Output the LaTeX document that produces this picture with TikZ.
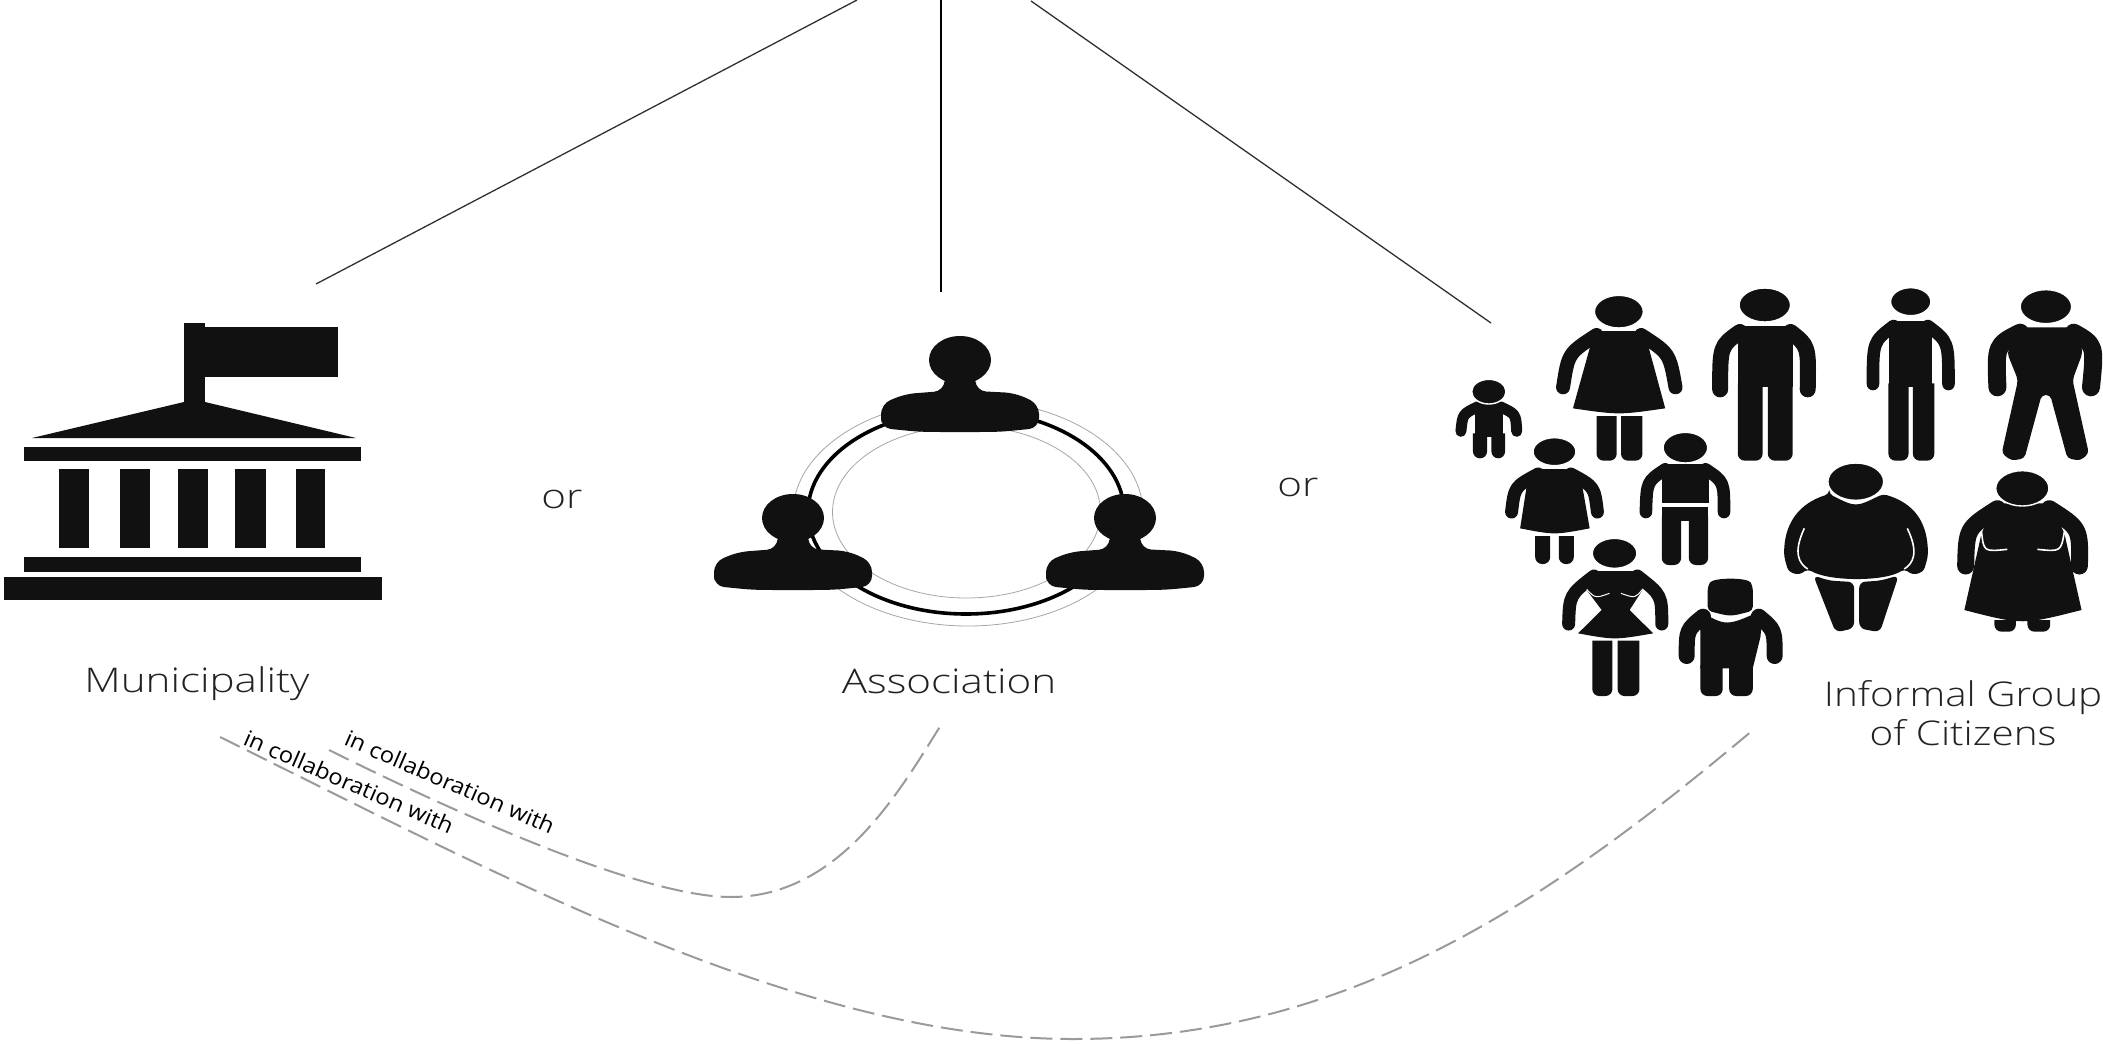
\documentclass[tikz,border=0pt]{standalone}
\usepackage{fontspec}
\setmainfont{Open Sans Light}
\newfontfamily\smallfont{Open Sans}
\definecolor{inkc}{HTML}{111111}
\definecolor{txtc}{HTML}{222222}
\definecolor{dashc}{HTML}{9A9A9A}
\definecolor{linec}{HTML}{303030}
\tikzset{
  ink/.style={fill=inkc,draw=none},
  conn/.style={draw=linec,line width=.65pt},
  connb/.style={draw=black,line width=1.1pt},
  collab/.style={draw=dashc,line width=1pt,dash pattern=on 11pt off 4pt},
  armst/.style={draw=inkc,line cap=round,line join=round},
  lbl/.style={text=txtc,font=\fontsize{17}{19.5}\selectfont,inner sep=0pt,align=center,xscale=1.24},
  lblgroup/.style={lbl,xscale=.96},
  small/.style={text=black,font=\smallfont\fontsize{11}{12}\selectfont,inner sep=0pt,rotate=-23.5,xscale=1.08},
  ringthin/.style={draw=gray!70,line width=.4pt},
  ringthick/.style={draw=black,line width=1.8pt},
  whiteline/.style={draw=white,line width=.8pt}
}
\newcommand\hd[4]{\fill[inkc,draw=white,line width=.7pt] (#1,#2) ellipse [x radius=#3,y radius=#4];}
\newcommand\arm[4][7]{\draw[armst,line width=#1pt] (#2) .. controls (#3) .. (#4);}
\newcommand\leg[4]{\fill[ink] (#1,#3) [rounded corners=3.5pt] -- (#1,#4) -- (#2,#4) [sharp corners] -- (#2,#3) -- cycle;}
\newcommand\bust[2]{%
  \begin{scope}[shift={(#1,#2)}]
  \fill[ink] (0,0) ellipse [x radius=31,y radius=24];
  \fill[ink,rounded corners=5pt] (-79,68) -- (-79,44) -- (-55,34) -- (-16,31) -- (-15,14) -- (15,14) -- (16,31) -- (55,33) -- (79,44) -- (79,68) .. controls (40,72) .. (0,72) .. controls (-40,72) .. (-79,68) -- cycle;
  \end{scope}}
\begin{document}
\begin{tikzpicture}[x=.5pt,y=-.5pt]
\useasboundingbox (0,0) rectangle (2103,1044);
% connector ends
\coordinate (t1) at (857,0);
\coordinate (t2) at (941,0);
\coordinate (t3) at (1031,1);
\coordinate (b1) at (316,284);
\coordinate (b2) at (941,292);
\coordinate (b3) at (1491,323);
\draw[conn] (t1) -- (b1);
\draw[connb] (t2) -- (b2);
\draw[conn] (t3) -- (b3);
% municipality icon
\fill[ink] (184,323) rectangle (205,403);
\fill[ink] (205,327) rectangle (338,377);
\fill[ink] (32,438) -- (184,402) -- (205,402) -- (356,438) -- cycle;
\fill[ink] (24,447) rectangle (361,461);
\foreach \a/\b in {59/89,120/150,178/208,235/266,296/325}{\fill[ink] (\a,469) rectangle (\b,548);}
\fill[ink] (24,557) rectangle (361,572);
\fill[ink] (4,577) rectangle (382,600);
% association icon
\draw[ringthin] (968,513) ellipse [x radius=175,y radius=113];
\draw[ringthin] (966.5,512) ellipse [x radius=134,y radius=86];
\draw[ringthick] (966,512) ellipse [x radius=158,y radius=102];
\bust{960}{360}
\bust{793}{518}
\bust{1125}{518}
% people
\begin{scope}[x=.2146pt,y=-.16667pt,shift={(715pt,-135pt)}]
% child
\fill[ink] (105,400) rectangle (170,500);
\arm[5.5]{112,410}{76,432}{72,484}
\arm[5.5]{163,410}{200,432}{202,484}
\leg{100}{133}{490}{565}\leg{143}{175}{490}{565}
\hd{137}{365}{40}{37}
% woman
\fill[ink] (385,183) -- (495,183) -- (510,235) -- (548,415) .. controls (440,435) .. (333,415) -- (372,235) -- cycle;
\arm{388,195}{322,250}{310,352}
\arm{492,195}{558,250}{572,352}
\leg{388}{435}{438}{572}\leg{445}{495}{438}{572}
\hd{440}{125}{57}{49}
% man
\fill[ink] (717,168) -- (845,168) -- (845,350) -- (717,350) -- cycle;
\arm[8]{722,186}{676,228}{676,358}
\arm[8]{840,186}{882,228}{880,358}
\leg{717}{775}{340}{572}\leg{787}{845}{340}{572}
\hd{780}{105}{60}{51}
% thin man
\fill[ink] (1070,153) -- (1170,153) -- (1170,350) -- (1070,350) -- cycle;
\arm[6.3]{1080,168}{1032,215}{1032,342}
\arm[6.3]{1160,168}{1208,215}{1208,342}
\leg{1068}{1115}{340}{572}\leg{1125}{1175}{340}{572}
\hd{1120}{95}{47}{42}
% broad man
\fill[ink,rounded corners=2pt] (1365,172) -- (1510,172) -- (1520,250) -- (1497,330) -- (1535,550) -- (1515,572) -- (1485,565) -- (1445,375) -- (1425,375) -- (1385,565) -- (1355,572) -- (1332,550) -- (1370,330) -- (1345,250) -- cycle;
\arm[9]{1375,188}{1318,225}{1322,352}
\arm[9]{1500,188}{1550,225}{1540,352}
\hd{1435}{110}{60}{51}
% small woman
\fill[ink] (245,597) -- (335,597) -- (355,650) -- (372,775) .. controls (290,795) .. (210,775) -- (225,650) -- cycle;
\arm[6.5]{252,612}{197,650}{190,726}
\arm[6.5]{328,612}{383,650}{390,726}
\leg{245}{280}{798}{882}\leg{300}{335}{798}{882}
\hd{290}{545}{50}{42}
% boy
\fill[ink] (540,582) rectangle (650,700);
\fill[ink] (540,712) rectangle (648,752);
\arm[6.3]{548,598}{505,635}{503,726}
\arm[6.3]{642,598}{685,635}{685,726}
\leg{540}{585}{740}{885}\leg{603}{648}{740}{885}
\hd{595}{533}{52}{46}
% girl
\fill[ink] (375,903) -- (490,903) -- (495,960) -- (465,1020) -- (520,1090) .. controls (430,1110) .. (345,1090) -- (400,1020) -- (365,960) -- cycle;
\arm[6.5]{382,918}{325,975}{323,1062}
\arm[6.5]{483,918}{540,975}{540,1062}
\draw[whiteline,line width=.5pt] (365,958) .. controls (385,985) .. (418,970);
\draw[whiteline,line width=.5pt] (495,958) .. controls (478,985) .. (445,970);
\leg{378}{425}{1112}{1278}\leg{437}{488}{1112}{1278}
\hd{430}{850}{52}{45}
% stocky figure
\fill[ink,rounded corners=2pt] (647,948) .. controls (660,922) and (740,922) .. (752,948) -- (752,1022) .. controls (700,1040) .. (647,1022) -- cycle;
\fill[ink] (625,1020) .. controls (690,1070) .. (775,1020) -- (770,1100) -- (752,1195) -- (630,1195) -- (630,1085) -- cycle;
\arm[8]{636,1040}{598,1080}{598,1158}
\arm[8]{766,1040}{803,1080}{803,1158}
\leg{630}{682}{1185}{1278}\leg{697}{752}{1185}{1278}
% fat man
\fill[ink,rounded corners=2pt] (930,672) .. controls (992,712) .. (1055,672) .. controls (1130,700) and (1160,760) .. (1160,860) -- (1150,905) -- (1125,915) -- (1105,897) .. controls (1060,935) and (930,935) .. (880,897) -- (860,915) -- (835,905) -- (825,860) .. controls (825,760) and (860,700) .. (930,672) -- cycle;
\draw[whiteline] (872,775) .. controls (845,850) and (860,880) .. (880,897);
\draw[whiteline] (1112,775) .. controls (1140,850) and (1125,880) .. (1105,897);
\fill[ink,rounded corners=3pt] (893,916) .. controls (930,932) .. (988,936) -- (988,1075) -- (945,1087) -- cycle;
\fill[ink,rounded corners=3pt] (1000,936) .. controls (1050,932) .. (1092,916) -- (1048,1087) -- (1000,1075) -- cycle;
\hd{992}{635}{65}{56}
% fat woman
\fill[ink] (1318,700) -- (1445,700) -- (1478,790) -- (1518,1020) .. controls (1380,1065) .. (1245,1020) -- (1285,790) -- cycle;
\arm[8.5]{1322,716}{1250,775}{1248,888}
\arm[8.5]{1443,716}{1515,775}{1513,888}
\draw[whiteline] (1285,785) .. controls (1290,845) .. (1345,838);
\draw[whiteline] (1478,785) .. controls (1470,845) .. (1415,838);
\leg{1315}{1365}{1050}{1085}\leg{1392}{1445}{1050}{1085}
\hd{1380}{655}{62}{53}
\end{scope}
% labels
\node[lbl] (mun) at (197,684) {Municipality};
\node[lbl] (ass) at (949,681) {Association};
\node[lbl,xscale=.96] (inf) at (1963,713) {Informal Group\\of Citizens};
\node[lbl] (or1) at (562,499) {or};
\node[lbl] (or2) at (1298,487) {or};
\node[small] (c1) at (450,782) {in collaboration with};
\node[small] (c2) at (349,782) {in collaboration with};
% dashed connectors
\coordinate (d1s) at (941,725);
\coordinate (d1m) at (731,897);
\coordinate (d1e) at (329,750);
\coordinate (d2s) at (1753,730);
\coordinate (d2m) at (1073,1039);
\coordinate (d2e) at (220,737);
\draw[collab] (d1e) .. controls (450,810) and (640,897) .. (d1m) .. controls (840,897) and (900,790) .. (d1s);
\draw[collab] (d2e) .. controls (500,875) and (800,1039) .. (d2m) .. controls (1350,1039) and (1550,900) .. (d2s);
\end{tikzpicture}
\end{document}
